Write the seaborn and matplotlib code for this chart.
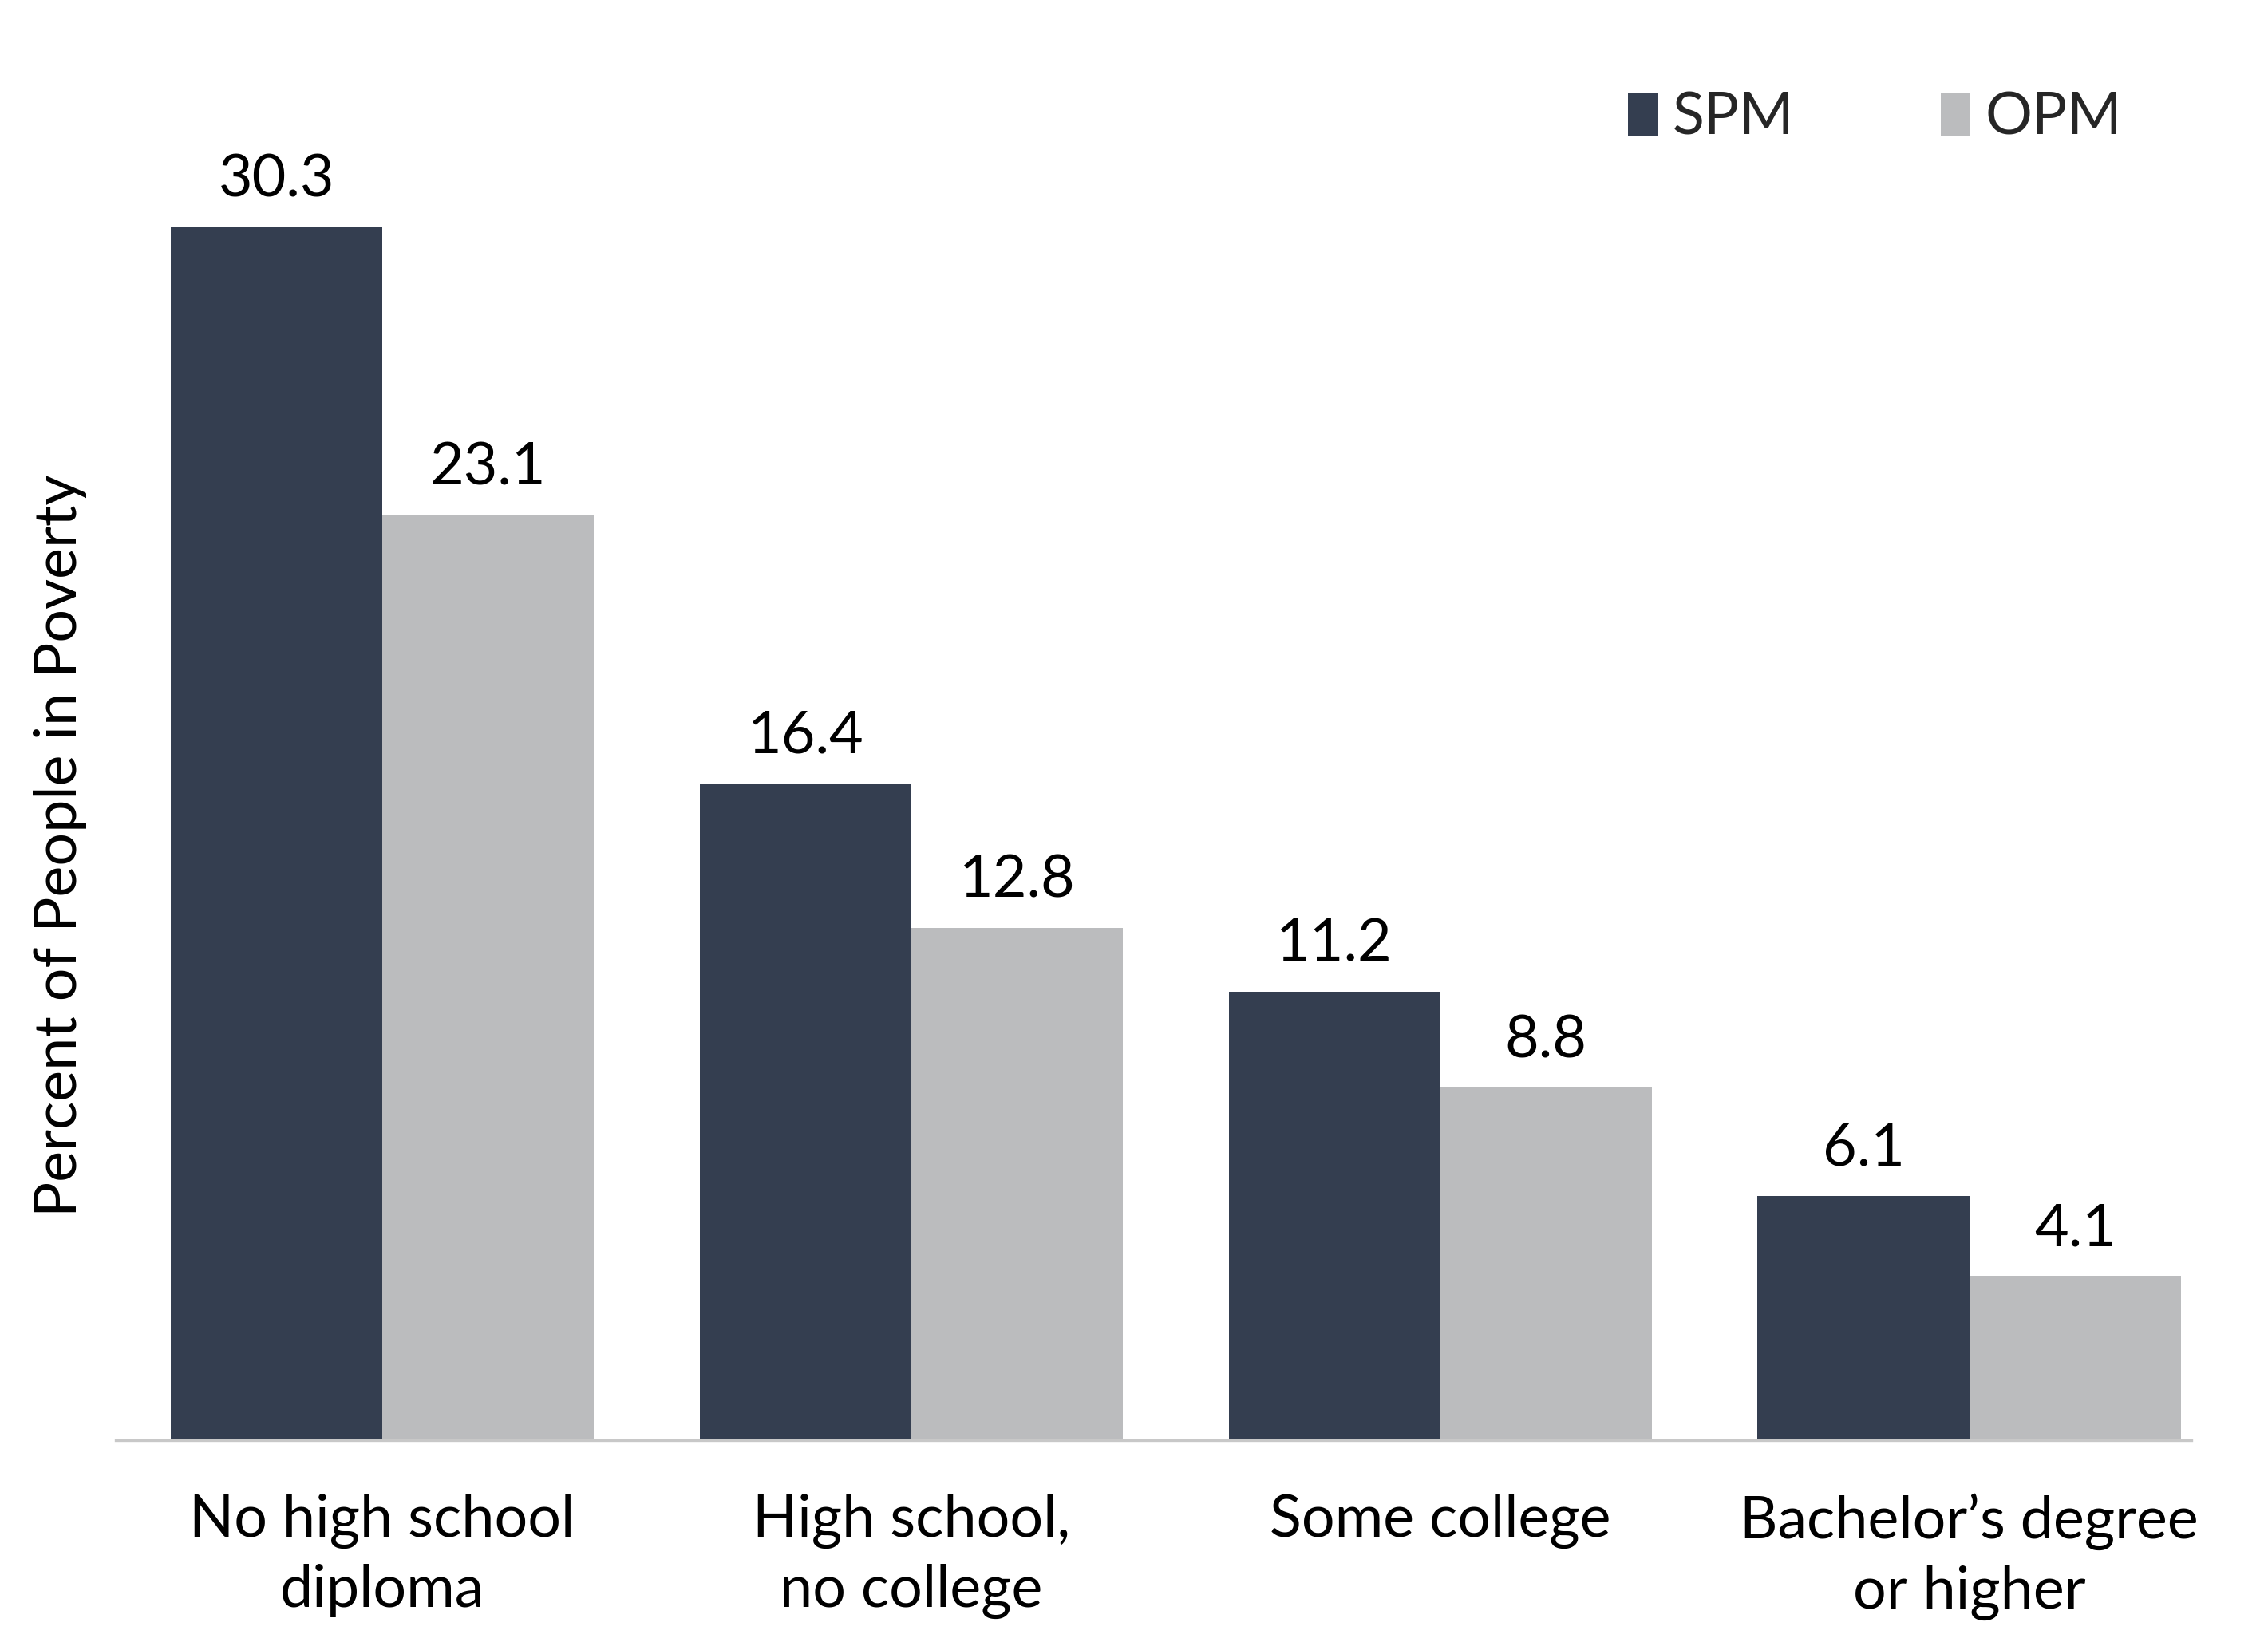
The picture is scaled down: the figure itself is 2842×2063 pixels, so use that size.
import pandas as pd
import matplotlib
matplotlib.use("Agg")
import matplotlib.pyplot as plt
import seaborn as sns

categories = ["No high school\ndiploma", "High school,\nno college",
              "Some college", "Bachelor\u2019s degree\nor higher"]
spm = [30.3, 16.4, 11.2, 6.1]
opm = [23.1, 12.8, 8.8, 4.1]
measures = ["SPM", "OPM"]
colors = {"SPM": "#343e50", "OPM": "#bbbcbe"}


def collect_data():
    rows = []
    for cat, s, o in zip(categories, spm, opm):
        rows.append({"category": cat, "measure": "SPM", "value": s})
        rows.append({"category": cat, "measure": "OPM", "value": o})
    return pd.DataFrame(rows)


def bar_plot(data_df):
    sns.set_style("white")
    plt.rcParams["font.family"] = ["Lato", "DejaVu Sans"]
    fs = 26.5

    fig = plt.figure(figsize=(14.21, 10.315), dpi=200)
    ax = fig.add_axes([145 / 2842, 0.125, 2601 / 2842, 1757 / 2063])
    sns.barplot(data=data_df, x="category", y="value", hue="measure",
                hue_order=measures, palette=colors, width=0.8,
                saturation=1, linewidth=0, ax=ax, legend=True)

    ax.set_ylim(0, 35)
    ax.set_xlim(-0.504, 3.42)
    for side in ["top", "right", "left"]:
        ax.spines[side].set_visible(False)
    ax.spines["bottom"].set_color("#c8c8c8")
    ax.spines["bottom"].set_linewidth(1.2)
    ax.set_yticks([])
    ax.set_xlabel("")
    ax.set_ylabel("Percent of People in Poverty", fontsize=fs, color="black")
    ax.yaxis.set_label_coords(-0.014, 0.424)
    ax.tick_params(axis="x", length=0, pad=24, labelsize=fs, labelcolor="black")
    for lab in ax.get_xticklabels():
        lab.set_linespacing(1.35)

    for cont in ax.containers:
        ax.bar_label(cont, fmt="%.1f", padding=9, fontsize=fs, color="black")

    ax.legend(loc="upper right", bbox_to_anchor=(0.992, 1.0), ncol=2,
              frameon=False, fontsize=fs, handlelength=0.5, handleheight=0.75,
              handletextpad=0.25, columnspacing=2.5)

    fig.savefig("out.png", dpi=200)


def main():
    data_df = collect_data()
    bar_plot(data_df)


main()
